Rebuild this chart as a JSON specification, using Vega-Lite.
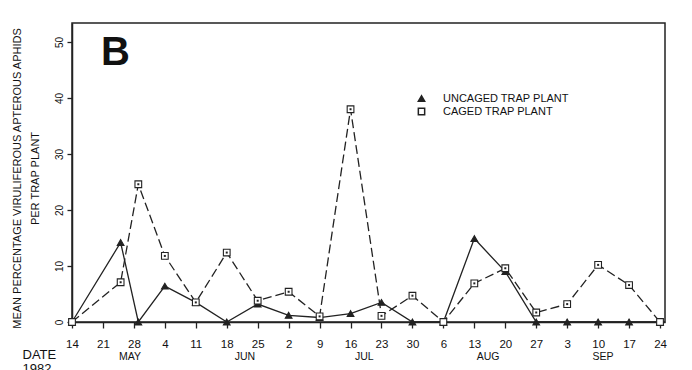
{
  "$schema": "https://vega.github.io/schema/vega-lite/v6.json",
  "autosize": "none",
  "width": 593,
  "height": 299,
  "padding": {"left": 72, "top": 23, "right": 27, "bottom": 48},
  "background": "white",
  "config": {
    "view": {"stroke": "#222", "strokeWidth": 1.5},
    "font": "Liberation Sans",
    "axis": {
      "domainColor": "#222",
      "domainWidth": 1.5,
      "tickColor": "#222",
      "tickWidth": 1.3,
      "labelColor": "#111",
      "titleColor": "#111",
      "labelFont": "Liberation Sans",
      "titleFont": "Liberation Sans",
      "grid": false
    }
  },
  "title": {
    "text": "B",
    "anchor": "start",
    "frame": "group",
    "orient": "top",
    "offset": 0,
    "dx": 29,
    "dy": 81.5,
    "baseline": "alphabetic",
    "fontSize": 40,
    "fontWeight": "bold",
    "font": "Liberation Sans",
    "color": "#111"
  },
  "data": {
    "values": [
      {"date": "1982-05-14", "series": "UNCAGED TRAP PLANT", "value": 0},
      {"date": "1982-05-25", "series": "UNCAGED TRAP PLANT", "value": 14.2},
      {"date": "1982-05-29", "series": "UNCAGED TRAP PLANT", "value": 0},
      {"date": "1982-06-04", "series": "UNCAGED TRAP PLANT", "value": 6.4},
      {"date": "1982-06-11", "series": "UNCAGED TRAP PLANT", "value": 3.5},
      {"date": "1982-06-18", "series": "UNCAGED TRAP PLANT", "value": 0},
      {"date": "1982-06-25", "series": "UNCAGED TRAP PLANT", "value": 3.2},
      {"date": "1982-07-02", "series": "UNCAGED TRAP PLANT", "value": 1.2},
      {"date": "1982-07-09", "series": "UNCAGED TRAP PLANT", "value": 0.8},
      {"date": "1982-07-16", "series": "UNCAGED TRAP PLANT", "value": 1.5},
      {"date": "1982-07-23", "series": "UNCAGED TRAP PLANT", "value": 3.5},
      {"date": "1982-07-30", "series": "UNCAGED TRAP PLANT", "value": 0},
      {"date": "1982-08-06", "series": "UNCAGED TRAP PLANT", "value": 0},
      {"date": "1982-08-13", "series": "UNCAGED TRAP PLANT", "value": 14.9},
      {"date": "1982-08-20", "series": "UNCAGED TRAP PLANT", "value": 9.0},
      {"date": "1982-08-27", "series": "UNCAGED TRAP PLANT", "value": 0},
      {"date": "1982-09-03", "series": "UNCAGED TRAP PLANT", "value": 0},
      {"date": "1982-09-10", "series": "UNCAGED TRAP PLANT", "value": 0},
      {"date": "1982-09-17", "series": "UNCAGED TRAP PLANT", "value": 0},
      {"date": "1982-09-24", "series": "UNCAGED TRAP PLANT", "value": 0},
      {"date": "1982-05-14", "series": "CAGED TRAP PLANT", "value": 0},
      {"date": "1982-05-25", "series": "CAGED TRAP PLANT", "value": 7.1},
      {"date": "1982-05-29", "series": "CAGED TRAP PLANT", "value": 24.6},
      {"date": "1982-06-04", "series": "CAGED TRAP PLANT", "value": 11.8},
      {"date": "1982-06-11", "series": "CAGED TRAP PLANT", "value": 3.5},
      {"date": "1982-06-18", "series": "CAGED TRAP PLANT", "value": 12.4},
      {"date": "1982-06-25", "series": "CAGED TRAP PLANT", "value": 3.8},
      {"date": "1982-07-02", "series": "CAGED TRAP PLANT", "value": 5.4},
      {"date": "1982-07-09", "series": "CAGED TRAP PLANT", "value": 1.0},
      {"date": "1982-07-16", "series": "CAGED TRAP PLANT", "value": 38.0},
      {"date": "1982-07-23", "series": "CAGED TRAP PLANT", "value": 1.1},
      {"date": "1982-07-30", "series": "CAGED TRAP PLANT", "value": 4.7},
      {"date": "1982-08-06", "series": "CAGED TRAP PLANT", "value": 0},
      {"date": "1982-08-13", "series": "CAGED TRAP PLANT", "value": 6.9},
      {"date": "1982-08-20", "series": "CAGED TRAP PLANT", "value": 9.6},
      {"date": "1982-08-27", "series": "CAGED TRAP PLANT", "value": 1.7},
      {"date": "1982-09-03", "series": "CAGED TRAP PLANT", "value": 3.2},
      {"date": "1982-09-10", "series": "CAGED TRAP PLANT", "value": 10.2},
      {"date": "1982-09-17", "series": "CAGED TRAP PLANT", "value": 6.6},
      {"date": "1982-09-24", "series": "CAGED TRAP PLANT", "value": 0}
    ]
  },
  "layer": [
    {
      "transform": [{"filter": "datum.series == 'UNCAGED TRAP PLANT'"}],
      "mark": {"type": "line", "color": "#222", "strokeWidth": 1.3},
      "encoding": {
        "x": {
          "field": "date",
          "type": "temporal",
          "scale": {
            "type": "utc",
            "domain": [
              {"year": 1982, "month": 5, "date": 14, "utc": true},
              {"year": 1982, "month": 9, "date": 25, "hours": 3, "utc": true}
            ]
          },
          "axis": {
            "orient": "bottom",
            "values": [
              {"year": 1982, "month": 5, "date": 14, "utc": true},
              {"year": 1982, "month": 5, "date": 21, "utc": true},
              {"year": 1982, "month": 5, "date": 28, "utc": true},
              {"year": 1982, "month": 6, "date": 4, "utc": true},
              {"year": 1982, "month": 6, "date": 11, "utc": true},
              {"year": 1982, "month": 6, "date": 18, "utc": true},
              {"year": 1982, "month": 6, "date": 25, "utc": true},
              {"year": 1982, "month": 7, "date": 2, "utc": true},
              {"year": 1982, "month": 7, "date": 9, "utc": true},
              {"year": 1982, "month": 7, "date": 16, "utc": true},
              {"year": 1982, "month": 7, "date": 23, "utc": true},
              {"year": 1982, "month": 7, "date": 30, "utc": true},
              {"year": 1982, "month": 8, "date": 6, "utc": true},
              {"year": 1982, "month": 8, "date": 13, "utc": true},
              {"year": 1982, "month": 8, "date": 20, "utc": true},
              {"year": 1982, "month": 8, "date": 27, "utc": true},
              {"year": 1982, "month": 9, "date": 3, "utc": true},
              {"year": 1982, "month": 9, "date": 10, "utc": true},
              {"year": 1982, "month": 9, "date": 17, "utc": true},
              {"year": 1982, "month": 9, "date": 24, "utc": true}
            ],
            "labelExpr": "utcFormat(datum.value, '%-d')",
            "tickSize": 6,
            "labelPadding": 10,
            "labelFontSize": 11.5,
            "labelAngle": 0,
            "labelOverlap": false,
            "labelFlush": false,
            "title": ["DATE", "1982"],
            "titleFontSize": 13,
            "titleFontWeight": "normal",
            "titleX": -50,
            "titleY": 36,
            "titleAlign": "left",
            "titleBaseline": "alphabetic",
            "titleLineHeight": 14
          }
        },
        "y": {
          "field": "value",
          "type": "quantitative",
          "scale": {"domain": [0, 53.4], "nice": false},
          "axis": {
            "values": [0, 10, 20, 30, 40, 50],
            "tickSize": 5,
            "labelPadding": 3,
            "labelAngle": 270,
            "labelAlign": "center",
            "labelBaseline": "bottom",
            "labelFontSize": 10,
            "title": ["MEAN PERCENTAGE VIRULIFEROUS APTEROUS APHIDS", "PER TRAP PLANT"],
            "titleFontSize": 11,
            "titleFontWeight": "normal",
            "titleAngle": 270,
            "titleAlign": "center",
            "titleBaseline": "top",
            "titleX": -61,
            "titleY": 155,
            "titleLineHeight": 18
          }
        }
      }
    },
    {
      "transform": [{"filter": "datum.series == 'CAGED TRAP PLANT'"}],
      "mark": {"type": "line", "color": "#222", "strokeWidth": 1.3, "strokeDash": [9, 4]},
      "encoding": {
        "x": {"field": "date", "type": "temporal", "axis": null},
        "y": {"field": "value", "type": "quantitative"}
      }
    },
    {
      "mark": {"type": "point", "filled": true, "stroke": "#222", "strokeWidth": 1.1, "opacity": 1},
      "encoding": {
        "x": {
          "field": "date",
          "type": "temporal",
          "axis": {
            "orient": "bottom",
            "values": [
              {"year": 1982, "month": 5, "date": 27, "utc": true},
              {"year": 1982, "month": 6, "date": 22, "utc": true},
              {"year": 1982, "month": 7, "date": 19, "utc": true},
              {"year": 1982, "month": 8, "date": 16, "utc": true},
              {"year": 1982, "month": 9, "date": 11, "utc": true}
            ],
            "labelExpr": "upper(utcFormat(datum.value, '%b'))",
            "domain": false,
            "ticks": false,
            "tickSize": 0,
            "labelPadding": 29,
            "labelFontSize": 10.5,
            "labelAngle": 0,
            "labelOverlap": false,
            "labelFlush": false,
            "title": null
          }
        },
        "y": {"field": "value", "type": "quantitative"},
        "shape": {
          "field": "series",
          "type": "nominal",
          "scale": {
            "domain": ["UNCAGED TRAP PLANT", "CAGED TRAP PLANT"],
            "range": ["triangle-up", "square"]
          },
          "legend": {
            "orient": "none",
            "legendX": 344,
            "legendY": 70,
            "title": null,
            "labelFontSize": 11,
            "labelFont": "Liberation Sans",
            "labelColor": "#111",
            "symbolSize": 40,
            "labelOffset": 16,
            "rowPadding": 0,
            "encode": {
              "symbols": {
                "update": {
                  "stroke": {"value": "#222"},
                  "strokeWidth": {"value": 1.2}
                }
              }
            }
          }
        },
        "fill": {
          "field": "series",
          "type": "nominal",
          "scale": {
            "domain": ["UNCAGED TRAP PLANT", "CAGED TRAP PLANT"],
            "range": ["#222", "white"]
          },
          "legend": {
            "orient": "none",
            "legendX": 344,
            "legendY": 70,
            "title": null,
            "labelFontSize": 11,
            "labelFont": "Liberation Sans",
            "labelColor": "#111",
            "symbolSize": 40,
            "labelOffset": 16,
            "rowPadding": 0,
            "encode": {
              "symbols": {
                "update": {
                  "stroke": {"value": "#222"},
                  "strokeWidth": {"value": 1.2}
                }
              }
            }
          }
        },
        "size": {"value": 45}
      }
    },
    {
      "transform": [{"filter": "datum.series == 'CAGED TRAP PLANT' && datum.value > 0"}],
      "mark": {"type": "point", "shape": "square", "filled": true, "color": "#222", "size": 4, "opacity": 1},
      "encoding": {
        "x": {"field": "date", "type": "temporal", "axis": null},
        "y": {"field": "value", "type": "quantitative"}
      }
    }
  ],
  "resolve": {"axis": {"x": "independent"}}
}
